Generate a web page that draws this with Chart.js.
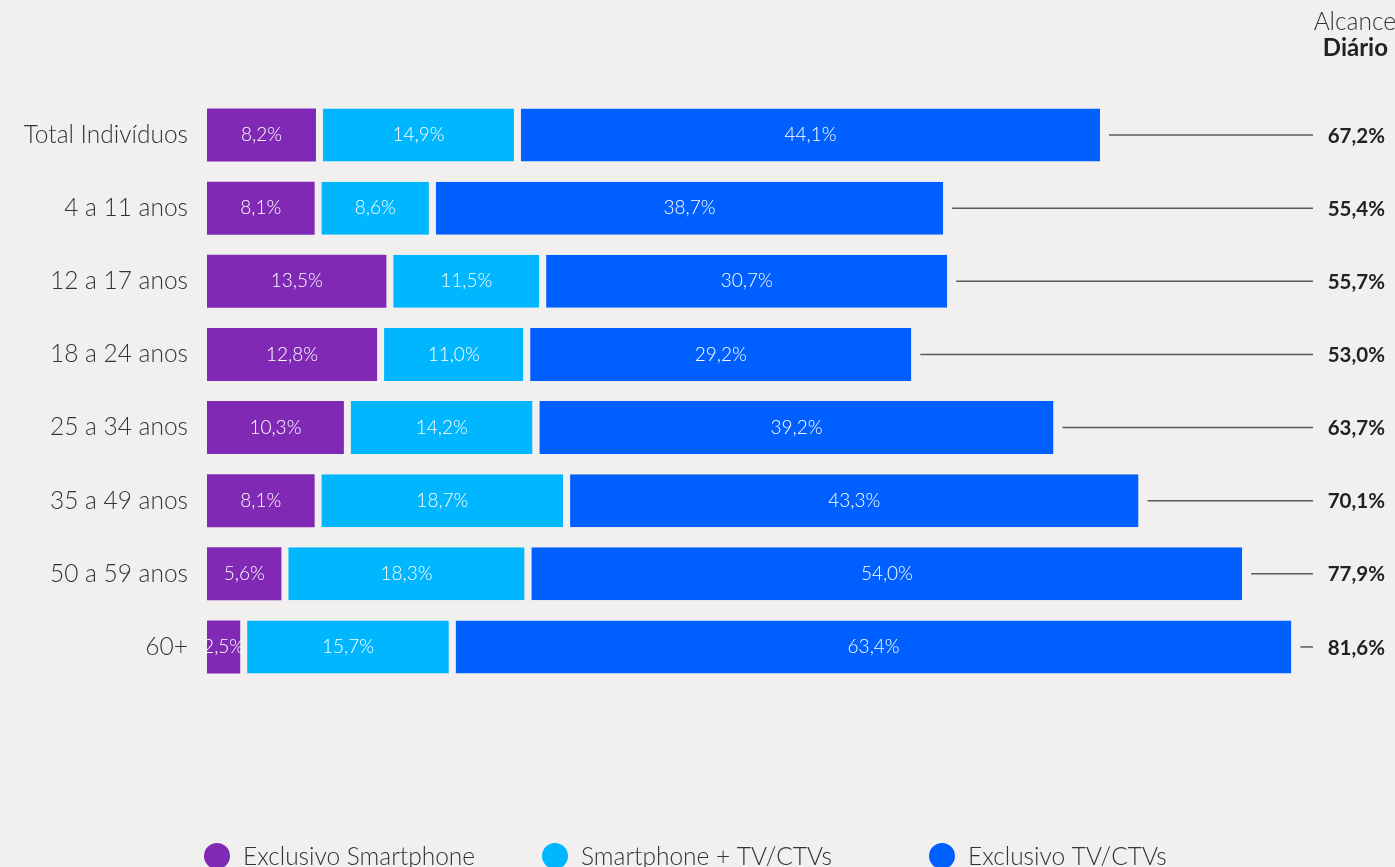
<!DOCTYPE html>
<html lang="pt">
<head>
<meta charset="utf-8">
<script src="https://cdn.jsdelivr.net/npm/chart.js@4/dist/chart.umd.min.js"></script>
<style>
  html, body { margin: 0; padding: 0; background: #f2f0ee; }
  #wrap { position: relative; width: 1395px; height: 867px; overflow: hidden; }
  canvas { display: block; }
</style>
</head>
<body>
<div id="wrap"><canvas id="c" width="1395" height="867"></canvas></div>
<script>
// Faixas etárias (categorias)
const categories = ['Total Indivíduos', '4 a 11 anos', '12 a 17 anos', '18 a 24 anos',
                    '25 a 34 anos', '35 a 49 anos', '50 a 59 anos', '60+'];
// Alcance por plataforma (%)
const exclusivoSmartphone = [8.2, 8.1, 13.5, 12.8, 10.3, 8.1, 5.6, 2.5];
const smartphoneTv        = [14.9, 8.6, 11.5, 11.0, 14.2, 18.7, 18.3, 15.7];
const exclusivoTv         = [44.1, 38.7, 30.7, 29.2, 39.2, 43.3, 54.0, 63.4];
// Alcance diário total (%)
const alcanceDiario       = [67.2, 55.4, 55.7, 53.0, 63.7, 70.1, 77.9, 81.6];
const seriesLabels = ['Exclusivo Smartphone', 'Smartphone + TV/CTVs', 'Exclusivo TV/CTVs'];

const BG = '#f2f0ee';
const COLORS = ['#8029b4', '#00b6ff', '#0060ff'];
const FONT = 'Lato, "Open Sans", sans-serif';
const GAP = 7;

const fmt = v => v.toFixed(1).replace('.', ',') + '%';

// Rótulos de valor dentro das barras, linhas guia e totais
const overlay = {
  id: 'overlay',
  afterDatasetsDraw(chart) {
    const ctx = chart.ctx;
    ctx.save();
    ctx.textBaseline = 'middle';
    chart.data.datasets.forEach((ds, di) => {
      const meta = chart.getDatasetMeta(di);
      meta.data.forEach((el, i) => {
        const left = Math.min(el.base, el.x) + (di > 0 ? GAP : 0);
        const right = Math.max(el.base, el.x);
        ctx.fillStyle = '#ffffff';
        ctx.font = '300 19px ' + FONT;
        ctx.textAlign = 'center';
        ctx.fillText(fmt(ds.data[i]), (left + right) / 2, el.y);
      });
    });
    const last = chart.getDatasetMeta(chart.data.datasets.length - 1);
    const xs = chart.scales.x;
    last.data.forEach((el, i) => {
      const end = xs.getPixelForValue(alcanceDiario[i]);
      ctx.strokeStyle = '#5a5a5a';
      ctx.lineWidth = 1.5;
      ctx.beginPath();
      ctx.moveTo(end + 9, el.y);
      ctx.lineTo(1313, el.y);
      ctx.stroke();
      ctx.fillStyle = '#222222';
      ctx.font = 'bold 20.5px ' + FONT;
      ctx.textAlign = 'right';
      ctx.fillText(fmt(alcanceDiario[i]), 1385, el.y + 1);
    });

    // Cabeçalho da coluna de totais
    ctx.textAlign = 'right';
    ctx.textBaseline = 'alphabetic';
    ctx.fillStyle = '#333333';
    ctx.font = '300 24.5px ' + FONT;
    ctx.fillText('Alcance', 1396, 30);
    ctx.fillStyle = '#222222';
    ctx.font = 'bold 24px ' + FONT;
    ctx.fillText('Diário', 1388, 56);

    // Legenda
    const legendX = [217, 555, 942];
    const ly = 856;
    chart.data.datasets.forEach((ds, di) => {
      ctx.fillStyle = COLORS[di];
      ctx.beginPath();
      ctx.ellipse(legendX[di], ly, 13, 13, 0, 0, Math.PI * 2);
      ctx.fill();
      ctx.fillStyle = '#333333';
      ctx.font = '300 24.5px ' + FONT;
      ctx.textAlign = 'left';
      ctx.textBaseline = 'middle';
      ctx.fillText(ds.label, legendX[di] + 26, ly + 1);
    });
    ctx.restore();
  }
};

const mkDataset = (label, data, idx) => ({
  label,
  data,
  backgroundColor: COLORS[idx],
  borderColor: BG,
  borderWidth: { left: idx > 0 ? GAP : 0, right: 0, top: 0, bottom: 0 },
  borderSkipped: false,
  categoryPercentage: 1.0,
  barPercentage: 0.725
});

new Chart(document.getElementById('c'), {
  type: 'bar',
  data: {
    labels: categories,
    datasets: [
      mkDataset(seriesLabels[0], exclusivoSmartphone, 0),
      mkDataset(seriesLabels[1], smartphoneTv, 1),
      mkDataset(seriesLabels[2], exclusivoTv, 2)
    ]
  },
  options: {
    indexAxis: 'y',
    responsive: false,
    animation: false,
    layout: { padding: { top: 98.5, bottom: 183.5, left: 0, right: 97 } },
    plugins: { legend: { display: false }, tooltip: { enabled: false } },
    scales: {
      x: {
        stacked: true, min: 0, max: 82.1,
        display: false,
        grid: { display: false }
      },
      y: {
        stacked: true,
        grid: { display: false },
        border: { display: false },
        afterFit: s => { s.width = 207; },
        ticks: {
          color: '#333333',
          padding: 11,
          font: { family: FONT, size: 24.5, weight: '300' }
        }
      }
    }
  },
  plugins: [overlay]
});
</script>
</body>
</html>
